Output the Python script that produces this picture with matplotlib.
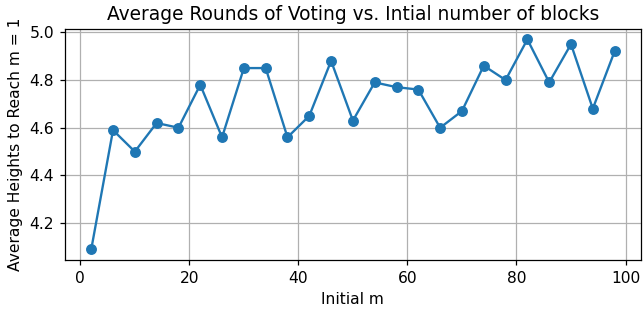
import matplotlib
matplotlib.use("Agg")
import matplotlib.pyplot as plt

initial_m = list(range(2, 100, 4))
avg_heights = [4.09, 4.59, 4.50, 4.62, 4.60, 4.78, 4.56, 4.85, 4.85, 4.56,
               4.65, 4.88, 4.63, 4.79, 4.77, 4.76, 4.60, 4.67, 4.86, 4.80,
               4.97, 4.79, 4.95, 4.68, 4.92]

fig = plt.figure(figsize=(644 / 112, 311 / 112), dpi=112)
plt.plot(initial_m, avg_heights, marker="o")
plt.title("Average Rounds of Voting vs. Intial number of blocks")
plt.xlabel("Initial m")
plt.ylabel("Average Heights to Reach m = 1")
plt.grid(True)
plt.subplots_adjust(left=0.101, right=0.995, top=0.907, bottom=0.164)
plt.savefig("out.png", dpi=112)
